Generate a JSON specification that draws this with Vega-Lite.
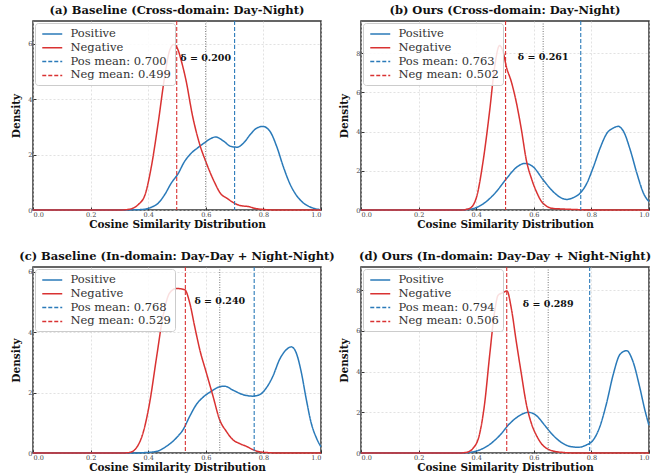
{
  "$schema": "https://vega.github.io/schema/vega-lite/v6.json",
  "padding": {"left": 11, "top": 4, "right": 3, "bottom": 0},
  "bounds": "flush",
  "spacing": {"row": 57, "column": 40},
  "columns": 2,
  "datasets": {
    "curves": [
      {"panel": "a", "series": "Positive", "x": 0.0, "density": 0},
      {"panel": "a", "series": "Positive", "x": 0.3, "density": 0},
      {"panel": "a", "series": "Positive", "x": 0.36, "density": 0.01},
      {"panel": "a", "series": "Positive", "x": 0.389, "density": 0.03},
      {"panel": "a", "series": "Positive", "x": 0.411, "density": 0.1},
      {"panel": "a", "series": "Positive", "x": 0.434, "density": 0.24},
      {"panel": "a", "series": "Positive", "x": 0.457, "density": 0.55},
      {"panel": "a", "series": "Positive", "x": 0.48, "density": 0.97},
      {"panel": "a", "series": "Positive", "x": 0.503, "density": 1.3},
      {"panel": "a", "series": "Positive", "x": 0.526, "density": 1.75},
      {"panel": "a", "series": "Positive", "x": 0.549, "density": 2.05},
      {"panel": "a", "series": "Positive", "x": 0.571, "density": 2.24},
      {"panel": "a", "series": "Positive", "x": 0.594, "density": 2.42},
      {"panel": "a", "series": "Positive", "x": 0.617, "density": 2.58},
      {"panel": "a", "series": "Positive", "x": 0.634, "density": 2.64},
      {"panel": "a", "series": "Positive", "x": 0.663, "density": 2.48},
      {"panel": "a", "series": "Positive", "x": 0.686, "density": 2.3},
      {"panel": "a", "series": "Positive", "x": 0.709, "density": 2.27},
      {"panel": "a", "series": "Positive", "x": 0.731, "density": 2.42},
      {"panel": "a", "series": "Positive", "x": 0.754, "density": 2.72},
      {"panel": "a", "series": "Positive", "x": 0.777, "density": 2.96},
      {"panel": "a", "series": "Positive", "x": 0.798, "density": 3.02},
      {"panel": "a", "series": "Positive", "x": 0.823, "density": 2.84},
      {"panel": "a", "series": "Positive", "x": 0.846, "density": 2.3},
      {"panel": "a", "series": "Positive", "x": 0.869, "density": 1.57},
      {"panel": "a", "series": "Positive", "x": 0.891, "density": 0.97},
      {"panel": "a", "series": "Positive", "x": 0.914, "density": 0.54},
      {"panel": "a", "series": "Positive", "x": 0.937, "density": 0.27},
      {"panel": "a", "series": "Positive", "x": 0.96, "density": 0.12},
      {"panel": "a", "series": "Positive", "x": 0.983, "density": 0.04},
      {"panel": "a", "series": "Positive", "x": 1.0, "density": 0.01},
      {"panel": "a", "series": "Negative", "x": 0.0, "density": 0},
      {"panel": "a", "series": "Negative", "x": 0.3, "density": 0},
      {"panel": "a", "series": "Negative", "x": 0.33, "density": 0.02},
      {"panel": "a", "series": "Negative", "x": 0.343, "density": 0.05},
      {"panel": "a", "series": "Negative", "x": 0.366, "density": 0.2},
      {"panel": "a", "series": "Negative", "x": 0.389, "density": 0.55},
      {"panel": "a", "series": "Negative", "x": 0.411, "density": 1.57},
      {"panel": "a", "series": "Negative", "x": 0.434, "density": 3.1},
      {"panel": "a", "series": "Negative", "x": 0.457, "density": 4.8},
      {"panel": "a", "series": "Negative", "x": 0.474, "density": 5.75},
      {"panel": "a", "series": "Negative", "x": 0.489, "density": 5.98},
      {"panel": "a", "series": "Negative", "x": 0.503, "density": 5.8},
      {"panel": "a", "series": "Negative", "x": 0.516, "density": 5.35},
      {"panel": "a", "series": "Negative", "x": 0.531, "density": 4.7},
      {"panel": "a", "series": "Negative", "x": 0.554, "density": 3.4},
      {"panel": "a", "series": "Negative", "x": 0.581, "density": 2.3},
      {"panel": "a", "series": "Negative", "x": 0.6, "density": 1.75},
      {"panel": "a", "series": "Negative", "x": 0.629, "density": 1.03},
      {"panel": "a", "series": "Negative", "x": 0.651, "density": 0.6},
      {"panel": "a", "series": "Negative", "x": 0.674, "density": 0.42},
      {"panel": "a", "series": "Negative", "x": 0.7, "density": 0.24},
      {"panel": "a", "series": "Negative", "x": 0.72, "density": 0.16},
      {"panel": "a", "series": "Negative", "x": 0.75, "density": 0.12},
      {"panel": "a", "series": "Negative", "x": 0.77, "density": 0.06},
      {"panel": "a", "series": "Negative", "x": 0.8, "density": 0.02},
      {"panel": "a", "series": "Negative", "x": 0.85, "density": 0},
      {"panel": "a", "series": "Negative", "x": 1.0, "density": 0},

      {"panel": "b", "series": "Positive", "x": 0.0, "density": 0},
      {"panel": "b", "series": "Positive", "x": 0.33, "density": 0},
      {"panel": "b", "series": "Positive", "x": 0.365, "density": 0.02},
      {"panel": "b", "series": "Positive", "x": 0.4, "density": 0.12},
      {"panel": "b", "series": "Positive", "x": 0.435, "density": 0.43},
      {"panel": "b", "series": "Positive", "x": 0.47, "density": 0.94},
      {"panel": "b", "series": "Positive", "x": 0.505, "density": 1.6},
      {"panel": "b", "series": "Positive", "x": 0.54, "density": 2.18},
      {"panel": "b", "series": "Positive", "x": 0.569, "density": 2.38},
      {"panel": "b", "series": "Positive", "x": 0.598, "density": 2.2},
      {"panel": "b", "series": "Positive", "x": 0.633, "density": 1.53},
      {"panel": "b", "series": "Positive", "x": 0.667, "density": 0.94},
      {"panel": "b", "series": "Positive", "x": 0.695, "density": 0.62},
      {"panel": "b", "series": "Positive", "x": 0.714, "density": 0.54},
      {"panel": "b", "series": "Positive", "x": 0.737, "density": 0.63},
      {"panel": "b", "series": "Positive", "x": 0.76, "density": 0.85},
      {"panel": "b", "series": "Positive", "x": 0.784, "density": 1.36},
      {"panel": "b", "series": "Positive", "x": 0.807, "density": 2.2},
      {"panel": "b", "series": "Positive", "x": 0.83, "density": 3.15},
      {"panel": "b", "series": "Positive", "x": 0.853, "density": 3.9},
      {"panel": "b", "series": "Positive", "x": 0.875, "density": 4.18},
      {"panel": "b", "series": "Positive", "x": 0.893, "density": 4.27},
      {"panel": "b", "series": "Positive", "x": 0.912, "density": 4.0},
      {"panel": "b", "series": "Positive", "x": 0.935, "density": 3.06},
      {"panel": "b", "series": "Positive", "x": 0.958, "density": 1.87},
      {"panel": "b", "series": "Positive", "x": 0.981, "density": 0.85},
      {"panel": "b", "series": "Positive", "x": 1.0, "density": 0.43},
      {"panel": "b", "series": "Negative", "x": 0.0, "density": 0},
      {"panel": "b", "series": "Negative", "x": 0.35, "density": 0},
      {"panel": "b", "series": "Negative", "x": 0.377, "density": 0.08},
      {"panel": "b", "series": "Negative", "x": 0.4, "density": 0.6},
      {"panel": "b", "series": "Negative", "x": 0.423, "density": 2.4},
      {"panel": "b", "series": "Negative", "x": 0.447, "density": 5.1},
      {"panel": "b", "series": "Negative", "x": 0.464, "density": 7.3},
      {"panel": "b", "series": "Negative", "x": 0.481, "density": 8.4},
      {"panel": "b", "series": "Negative", "x": 0.493, "density": 8.1},
      {"panel": "b", "series": "Negative", "x": 0.505, "density": 7.3},
      {"panel": "b", "series": "Negative", "x": 0.522, "density": 6.55},
      {"panel": "b", "series": "Negative", "x": 0.54, "density": 5.45},
      {"panel": "b", "series": "Negative", "x": 0.557, "density": 4.1},
      {"panel": "b", "series": "Negative", "x": 0.574, "density": 2.55},
      {"panel": "b", "series": "Negative", "x": 0.592, "density": 1.6},
      {"panel": "b", "series": "Negative", "x": 0.609, "density": 0.94},
      {"panel": "b", "series": "Negative", "x": 0.627, "density": 0.43},
      {"panel": "b", "series": "Negative", "x": 0.644, "density": 0.2},
      {"panel": "b", "series": "Negative", "x": 0.667, "density": 0.08},
      {"panel": "b", "series": "Negative", "x": 0.702, "density": 0.05},
      {"panel": "b", "series": "Negative", "x": 0.75, "density": 0.02},
      {"panel": "b", "series": "Negative", "x": 0.8, "density": 0},
      {"panel": "b", "series": "Negative", "x": 1.0, "density": 0},

      {"panel": "c", "series": "Positive", "x": 0.0, "density": 0},
      {"panel": "c", "series": "Positive", "x": 0.35, "density": 0},
      {"panel": "c", "series": "Positive", "x": 0.382, "density": 0.01},
      {"panel": "c", "series": "Positive", "x": 0.428, "density": 0.05},
      {"panel": "c", "series": "Positive", "x": 0.463, "density": 0.22},
      {"panel": "c", "series": "Positive", "x": 0.498, "density": 0.5},
      {"panel": "c", "series": "Positive", "x": 0.521, "density": 0.77},
      {"panel": "c", "series": "Positive", "x": 0.544, "density": 1.21},
      {"panel": "c", "series": "Positive", "x": 0.567, "density": 1.6},
      {"panel": "c", "series": "Positive", "x": 0.59, "density": 1.84},
      {"panel": "c", "series": "Positive", "x": 0.619, "density": 2.04},
      {"panel": "c", "series": "Positive", "x": 0.648, "density": 2.19},
      {"panel": "c", "series": "Positive", "x": 0.665, "density": 2.21},
      {"panel": "c", "series": "Positive", "x": 0.694, "density": 2.08},
      {"panel": "c", "series": "Positive", "x": 0.729, "density": 1.93},
      {"panel": "c", "series": "Positive", "x": 0.764, "density": 1.88},
      {"panel": "c", "series": "Positive", "x": 0.787, "density": 1.93},
      {"panel": "c", "series": "Positive", "x": 0.81, "density": 2.15},
      {"panel": "c", "series": "Positive", "x": 0.833, "density": 2.54},
      {"panel": "c", "series": "Positive", "x": 0.856, "density": 3.09},
      {"panel": "c", "series": "Positive", "x": 0.88, "density": 3.42},
      {"panel": "c", "series": "Positive", "x": 0.897, "density": 3.51},
      {"panel": "c", "series": "Positive", "x": 0.914, "density": 3.31},
      {"panel": "c", "series": "Positive", "x": 0.932, "density": 2.65},
      {"panel": "c", "series": "Positive", "x": 0.949, "density": 1.77},
      {"panel": "c", "series": "Positive", "x": 0.966, "density": 0.99},
      {"panel": "c", "series": "Positive", "x": 0.984, "density": 0.5},
      {"panel": "c", "series": "Positive", "x": 1.0, "density": 0.2},
      {"panel": "c", "series": "Negative", "x": 0.0, "density": 0},
      {"panel": "c", "series": "Negative", "x": 0.31, "density": 0},
      {"panel": "c", "series": "Negative", "x": 0.336, "density": 0.02},
      {"panel": "c", "series": "Negative", "x": 0.359, "density": 0.17},
      {"panel": "c", "series": "Negative", "x": 0.382, "density": 0.66},
      {"panel": "c", "series": "Negative", "x": 0.405, "density": 1.66},
      {"panel": "c", "series": "Negative", "x": 0.428, "density": 3.1},
      {"panel": "c", "series": "Negative", "x": 0.451, "density": 4.5},
      {"panel": "c", "series": "Negative", "x": 0.475, "density": 5.3},
      {"panel": "c", "series": "Negative", "x": 0.498, "density": 5.44},
      {"panel": "c", "series": "Negative", "x": 0.527, "density": 5.4},
      {"panel": "c", "series": "Negative", "x": 0.544, "density": 4.97},
      {"panel": "c", "series": "Negative", "x": 0.561, "density": 4.2},
      {"panel": "c", "series": "Negative", "x": 0.579, "density": 3.42},
      {"panel": "c", "series": "Negative", "x": 0.602, "density": 2.65},
      {"panel": "c", "series": "Negative", "x": 0.625, "density": 1.88},
      {"panel": "c", "series": "Negative", "x": 0.648, "density": 1.1},
      {"panel": "c", "series": "Negative", "x": 0.671, "density": 0.72},
      {"panel": "c", "series": "Negative", "x": 0.694, "density": 0.44},
      {"panel": "c", "series": "Negative", "x": 0.718, "density": 0.31},
      {"panel": "c", "series": "Negative", "x": 0.741, "density": 0.22},
      {"panel": "c", "series": "Negative", "x": 0.764, "density": 0.11},
      {"panel": "c", "series": "Negative", "x": 0.787, "density": 0.04},
      {"panel": "c", "series": "Negative", "x": 0.82, "density": 0.01},
      {"panel": "c", "series": "Negative", "x": 0.85, "density": 0},
      {"panel": "c", "series": "Negative", "x": 1.0, "density": 0},

      {"panel": "d", "series": "Positive", "x": 0.0, "density": 0},
      {"panel": "d", "series": "Positive", "x": 0.34, "density": 0},
      {"panel": "d", "series": "Positive", "x": 0.377, "density": 0.03},
      {"panel": "d", "series": "Positive", "x": 0.412, "density": 0.15},
      {"panel": "d", "series": "Positive", "x": 0.447, "density": 0.42},
      {"panel": "d", "series": "Positive", "x": 0.482, "density": 0.87},
      {"panel": "d", "series": "Positive", "x": 0.516, "density": 1.44},
      {"panel": "d", "series": "Positive", "x": 0.551, "density": 1.84},
      {"panel": "d", "series": "Positive", "x": 0.58, "density": 2.0},
      {"panel": "d", "series": "Positive", "x": 0.609, "density": 1.84},
      {"panel": "d", "series": "Positive", "x": 0.638, "density": 1.36},
      {"panel": "d", "series": "Positive", "x": 0.667, "density": 0.87},
      {"panel": "d", "series": "Positive", "x": 0.701, "density": 0.47},
      {"panel": "d", "series": "Positive", "x": 0.73, "density": 0.31},
      {"panel": "d", "series": "Positive", "x": 0.753, "density": 0.28},
      {"panel": "d", "series": "Positive", "x": 0.782, "density": 0.39},
      {"panel": "d", "series": "Positive", "x": 0.806, "density": 0.63},
      {"panel": "d", "series": "Positive", "x": 0.829, "density": 1.28},
      {"panel": "d", "series": "Positive", "x": 0.852, "density": 2.41},
      {"panel": "d", "series": "Positive", "x": 0.876, "density": 3.87},
      {"panel": "d", "series": "Positive", "x": 0.899, "density": 4.84},
      {"panel": "d", "series": "Positive", "x": 0.922, "density": 5.03},
      {"panel": "d", "series": "Positive", "x": 0.944, "density": 4.51},
      {"panel": "d", "series": "Positive", "x": 0.968, "density": 3.22},
      {"panel": "d", "series": "Positive", "x": 0.986, "density": 2.09},
      {"panel": "d", "series": "Positive", "x": 1.0, "density": 1.36},
      {"panel": "d", "series": "Negative", "x": 0.0, "density": 0},
      {"panel": "d", "series": "Negative", "x": 0.34, "density": 0},
      {"panel": "d", "series": "Negative", "x": 0.366, "density": 0.03},
      {"panel": "d", "series": "Negative", "x": 0.389, "density": 0.23},
      {"panel": "d", "series": "Negative", "x": 0.412, "density": 0.95},
      {"panel": "d", "series": "Negative", "x": 0.429, "density": 2.4},
      {"panel": "d", "series": "Negative", "x": 0.447, "density": 4.84},
      {"panel": "d", "series": "Negative", "x": 0.464, "density": 6.94},
      {"panel": "d", "series": "Negative", "x": 0.476, "density": 7.75},
      {"panel": "d", "series": "Negative", "x": 0.493, "density": 7.88},
      {"panel": "d", "series": "Negative", "x": 0.507, "density": 7.96},
      {"panel": "d", "series": "Negative", "x": 0.522, "density": 7.1},
      {"panel": "d", "series": "Negative", "x": 0.539, "density": 5.49},
      {"panel": "d", "series": "Negative", "x": 0.557, "density": 3.87},
      {"panel": "d", "series": "Negative", "x": 0.574, "density": 2.41},
      {"panel": "d", "series": "Negative", "x": 0.592, "density": 1.44},
      {"panel": "d", "series": "Negative", "x": 0.609, "density": 0.87},
      {"panel": "d", "series": "Negative", "x": 0.626, "density": 0.47},
      {"panel": "d", "series": "Negative", "x": 0.644, "density": 0.23},
      {"panel": "d", "series": "Negative", "x": 0.667, "density": 0.1},
      {"panel": "d", "series": "Negative", "x": 0.701, "density": 0.03},
      {"panel": "d", "series": "Negative", "x": 0.75, "density": 0},
      {"panel": "d", "series": "Negative", "x": 1.0, "density": 0}
    ],
    "means": [
      {"panel": "a", "series": "Pos mean: 0.700", "value": 0.700},
      {"panel": "a", "series": "Neg mean: 0.499", "value": 0.499},
      {"panel": "b", "series": "Pos mean: 0.763", "value": 0.763},
      {"panel": "b", "series": "Neg mean: 0.502", "value": 0.502},
      {"panel": "c", "series": "Pos mean: 0.768", "value": 0.768},
      {"panel": "c", "series": "Neg mean: 0.529", "value": 0.529},
      {"panel": "d", "series": "Pos mean: 0.794", "value": 0.794},
      {"panel": "d", "series": "Neg mean: 0.506", "value": 0.506}
    ],
    "gaps": [
      {"panel": "a", "mid": 0.5995, "label": "δ = 0.200"},
      {"panel": "b", "mid": 0.6325, "label": "δ = 0.261"},
      {"panel": "c", "mid": 0.6485, "label": "δ = 0.240"},
      {"panel": "d", "mid": 0.65, "label": "δ = 0.289"}
    ]
  },
  "resolve": {
    "scale": {"x": "independent", "y": "independent", "color": "independent", "strokeDash": "independent"},
    "legend": {"color": "independent", "strokeDash": "independent"}
  },
  "concat": [
    {
      "width": 288, "height": 189,
      "title": "(a) Baseline (Cross-domain: Day-Night)",
      "layer": [
        {
          "data": {"name": "curves"},
          "transform": [{"filter": "datum.panel === 'a'"}],
          "mark": {"type": "line", "strokeWidth": 1.5, "interpolate": "monotone"},
          "encoding": {
            "x": {"field": "x", "type": "quantitative", "scale": {"domain": [0, 1]}, "axis": {"values": [0, 0.2, 0.4, 0.6, 0.8, 1.0], "format": ".1f", "title": "Cosine Similarity Distribution"}},
            "y": {"field": "density", "type": "quantitative", "scale": {"domain": [0, 6.83], "nice": false}, "axis": {"values": [0, 1, 2, 3, 4, 5, 6], "format": "d", "title": "Density"}},
            "color": {"field": "series", "type": "nominal", "scale": {"domain": ["Positive", "Negative", "Pos mean: 0.700", "Neg mean: 0.499"], "range": ["#2a7ab9", "#d93232", "#2a7ab9", "#d93232"]}, "legend": {"title": null}},
            "strokeDash": {"field": "series", "type": "nominal", "scale": {"domain": ["Positive", "Negative", "Pos mean: 0.700", "Neg mean: 0.499"], "range": [[1, 0], [1, 0], [4, 2], [4, 2]]}, "legend": {"title": null}}
          }
        },
        {
          "data": {"name": "means"},
          "transform": [{"filter": "datum.panel === 'a'"}],
          "mark": {"type": "rule", "strokeWidth": 1.1},
          "encoding": {
            "x": {"field": "value", "type": "quantitative"},
            "color": {"field": "series", "type": "nominal"},
            "strokeDash": {"field": "series", "type": "nominal"}
          }
        },
        {
          "data": {"name": "gaps"},
          "transform": [{"filter": "datum.panel === 'a'"}],
          "mark": {"type": "rule", "color": "#666", "strokeDash": [1, 1.5], "strokeWidth": 0.9},
          "encoding": {"x": {"field": "mid", "type": "quantitative"}}
        },
        {
          "data": {"name": "gaps"},
          "transform": [{"filter": "datum.panel === 'a'"}],
          "mark": {"type": "text", "fontSize": 9.5, "fontWeight": "bold", "color": "#111"},
          "encoding": {"x": {"field": "mid", "type": "quantitative"}, "y": {"datum": 5.5}, "text": {"field": "label"}}
        }
      ]
    },
    {
      "width": 288, "height": 189,
      "title": "(b) Ours (Cross-domain: Day-Night)",
      "layer": [
        {
          "data": {"name": "curves"},
          "transform": [{"filter": "datum.panel === 'b'"}],
          "mark": {"type": "line", "strokeWidth": 1.5, "interpolate": "monotone"},
          "encoding": {
            "x": {"field": "x", "type": "quantitative", "scale": {"domain": [0, 1]}, "axis": {"values": [0, 0.2, 0.4, 0.6, 0.8, 1.0], "format": ".1f", "title": "Cosine Similarity Distribution"}},
            "y": {"field": "density", "type": "quantitative", "scale": {"domain": [0, 9.65], "nice": false}, "axis": {"values": [0, 2, 4, 6, 8], "format": "d", "title": "Density"}},
            "color": {"field": "series", "type": "nominal", "scale": {"domain": ["Positive", "Negative", "Pos mean: 0.763", "Neg mean: 0.502"], "range": ["#2a7ab9", "#d93232", "#2a7ab9", "#d93232"]}, "legend": {"title": null}},
            "strokeDash": {"field": "series", "type": "nominal", "scale": {"domain": ["Positive", "Negative", "Pos mean: 0.763", "Neg mean: 0.502"], "range": [[1, 0], [1, 0], [4, 2], [4, 2]]}, "legend": {"title": null}}
          }
        },
        {
          "data": {"name": "means"},
          "transform": [{"filter": "datum.panel === 'b'"}],
          "mark": {"type": "rule", "strokeWidth": 1.1},
          "encoding": {
            "x": {"field": "value", "type": "quantitative"},
            "color": {"field": "series", "type": "nominal"},
            "strokeDash": {"field": "series", "type": "nominal"}
          }
        },
        {
          "data": {"name": "gaps"},
          "transform": [{"filter": "datum.panel === 'b'"}],
          "mark": {"type": "rule", "color": "#666", "strokeDash": [1, 1.5], "strokeWidth": 0.9},
          "encoding": {"x": {"field": "mid", "type": "quantitative"}}
        },
        {
          "data": {"name": "gaps"},
          "transform": [{"filter": "datum.panel === 'b'"}],
          "mark": {"type": "text", "fontSize": 9.5, "fontWeight": "bold", "color": "#111"},
          "encoding": {"x": {"field": "mid", "type": "quantitative"}, "y": {"datum": 7.8}, "text": {"field": "label"}}
        }
      ]
    },
    {
      "width": 288, "height": 186,
      "title": "(c) Baseline (In-domain: Day-Day + Night-Night)",
      "layer": [
        {
          "data": {"name": "curves"},
          "transform": [{"filter": "datum.panel === 'c'"}],
          "mark": {"type": "line", "strokeWidth": 1.5, "interpolate": "monotone"},
          "encoding": {
            "x": {"field": "x", "type": "quantitative", "scale": {"domain": [0, 1]}, "axis": {"values": [0, 0.2, 0.4, 0.6, 0.8, 1.0], "format": ".1f", "title": "Cosine Similarity Distribution"}},
            "y": {"field": "density", "type": "quantitative", "scale": {"domain": [0, 6.15], "nice": false}, "axis": {"values": [0, 1, 2, 3, 4, 5, 6], "format": "d", "title": "Density"}},
            "color": {"field": "series", "type": "nominal", "scale": {"domain": ["Positive", "Negative", "Pos mean: 0.768", "Neg mean: 0.529"], "range": ["#2a7ab9", "#d93232", "#2a7ab9", "#d93232"]}, "legend": {"title": null}},
            "strokeDash": {"field": "series", "type": "nominal", "scale": {"domain": ["Positive", "Negative", "Pos mean: 0.768", "Neg mean: 0.529"], "range": [[1, 0], [1, 0], [4, 2], [4, 2]]}, "legend": {"title": null}}
          }
        },
        {
          "data": {"name": "means"},
          "transform": [{"filter": "datum.panel === 'c'"}],
          "mark": {"type": "rule", "strokeWidth": 1.1},
          "encoding": {
            "x": {"field": "value", "type": "quantitative"},
            "color": {"field": "series", "type": "nominal"},
            "strokeDash": {"field": "series", "type": "nominal"}
          }
        },
        {
          "data": {"name": "gaps"},
          "transform": [{"filter": "datum.panel === 'c'"}],
          "mark": {"type": "rule", "color": "#666", "strokeDash": [1, 1.5], "strokeWidth": 0.9},
          "encoding": {"x": {"field": "mid", "type": "quantitative"}}
        },
        {
          "data": {"name": "gaps"},
          "transform": [{"filter": "datum.panel === 'c'"}],
          "mark": {"type": "text", "fontSize": 9.5, "fontWeight": "bold", "color": "#111"},
          "encoding": {"x": {"field": "mid", "type": "quantitative"}, "y": {"datum": 5.02}, "text": {"field": "label"}}
        }
      ]
    },
    {
      "width": 288, "height": 186,
      "title": "(d) Ours (In-domain: Day-Day + Night-Night)",
      "layer": [
        {
          "data": {"name": "curves"},
          "transform": [{"filter": "datum.panel === 'd'"}],
          "mark": {"type": "line", "strokeWidth": 1.5, "interpolate": "monotone"},
          "encoding": {
            "x": {"field": "x", "type": "quantitative", "scale": {"domain": [0, 1]}, "axis": {"values": [0, 0.2, 0.4, 0.6, 0.8, 1.0], "format": ".1f", "title": "Cosine Similarity Distribution"}},
            "y": {"field": "density", "type": "quantitative", "scale": {"domain": [0, 9.14], "nice": false}, "axis": {"values": [0, 2, 4, 6, 8], "format": "d", "title": "Density"}},
            "color": {"field": "series", "type": "nominal", "scale": {"domain": ["Positive", "Negative", "Pos mean: 0.794", "Neg mean: 0.506"], "range": ["#2a7ab9", "#d93232", "#2a7ab9", "#d93232"]}, "legend": {"title": null}},
            "strokeDash": {"field": "series", "type": "nominal", "scale": {"domain": ["Positive", "Negative", "Pos mean: 0.794", "Neg mean: 0.506"], "range": [[1, 0], [1, 0], [4, 2], [4, 2]]}, "legend": {"title": null}}
          }
        },
        {
          "data": {"name": "means"},
          "transform": [{"filter": "datum.panel === 'd'"}],
          "mark": {"type": "rule", "strokeWidth": 1.1},
          "encoding": {
            "x": {"field": "value", "type": "quantitative"},
            "color": {"field": "series", "type": "nominal"},
            "strokeDash": {"field": "series", "type": "nominal"}
          }
        },
        {
          "data": {"name": "gaps"},
          "transform": [{"filter": "datum.panel === 'd'"}],
          "mark": {"type": "rule", "color": "#666", "strokeDash": [1, 1.5], "strokeWidth": 0.9},
          "encoding": {"x": {"field": "mid", "type": "quantitative"}}
        },
        {
          "data": {"name": "gaps"},
          "transform": [{"filter": "datum.panel === 'd'"}],
          "mark": {"type": "text", "fontSize": 9.5, "fontWeight": "bold", "color": "#111"},
          "encoding": {"x": {"field": "mid", "type": "quantitative"}, "y": {"datum": 7.34}, "text": {"field": "label"}}
        }
      ]
    }
  ],
  "config": {
    "font": "DejaVu Serif",
    "view": {"stroke": "#333", "strokeWidth": 1.5},
    "axis": {
      "domain": false, "grid": true, "gridColor": "#d5d5d5", "gridDash": [2, 2], "gridWidth": 0.7,
      "ticks": true, "tickColor": "#333", "tickSize": -3,
      "labelFont": "DejaVu Serif", "labelFontSize": 6.5, "labelColor": "#444", "labelPadding": 4,
      "titleFont": "DejaVu Serif", "titleFontSize": 10.5, "titleFontWeight": "bold", "titleColor": "#111"
    },
    "axisX": {"titlePadding": 2},
    "axisY": {"titlePadding": 6},
    "title": {"font": "DejaVu Serif", "fontSize": 11.5, "fontWeight": "bold", "color": "#111", "offset": 4},
    "legend": {
      "orient": "top-left", "offset": 1.5, "fillColor": "rgba(255,255,255,0.85)", "strokeColor": "#ccc",
      "cornerRadius": 3, "padding": 4, "symbolType": "M-1.6,0H1.6", "symbolSize": 156, "symbolStrokeWidth": 1.5,
      "symbolOffset": 6.25,
      "labelFont": "DejaVu Serif", "labelFontSize": 11.5, "labelColor": "#333", "rowPadding": 0.8, "labelOffset": 11.25
    },
    "text": {"font": "DejaVu Serif"}
  }
}
